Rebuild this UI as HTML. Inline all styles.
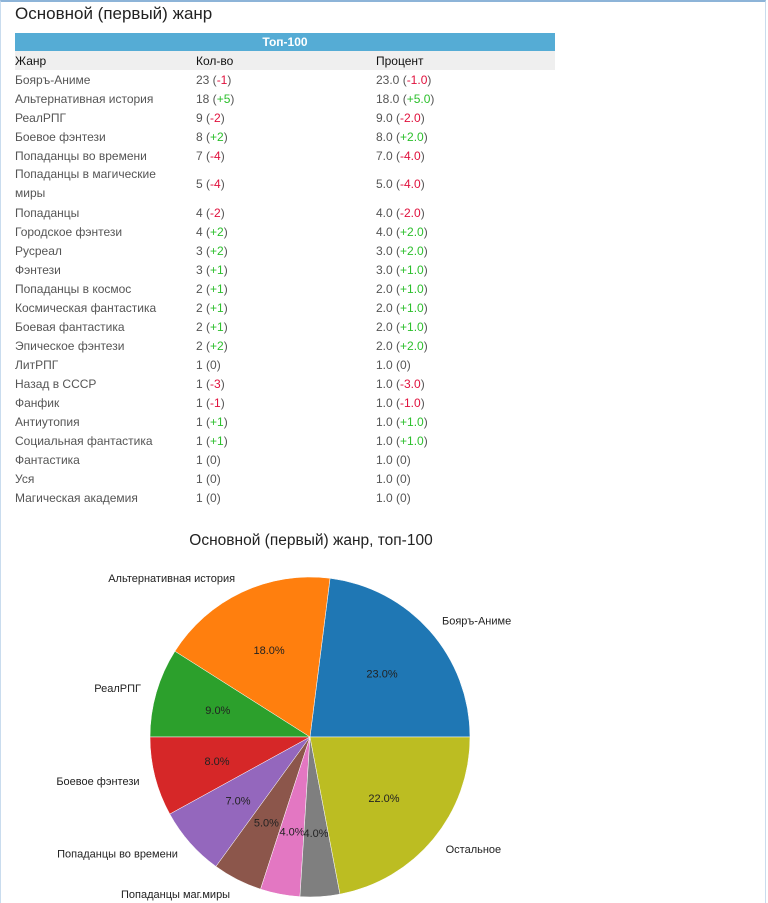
<!DOCTYPE html>
<html><head><meta charset="utf-8"><style>
body{margin:0;width:768px;height:903px;overflow:hidden;background:#fff;font-family:"Liberation Sans","DejaVu Sans",sans-serif;position:relative}
.frame{position:absolute;left:0;top:0;width:766px;height:903px;border-top:2px solid #8db4d8;border-left:1px solid #c9dcee;border-right:1px solid #c9dcee;box-sizing:border-box}
h1{position:absolute;left:15px;top:4px;margin:0;font-weight:normal;font-size:17px;color:#222}
table{position:absolute;left:15px;top:33px;width:540px;border-collapse:collapse;font-size:12px;color:#555}
td{padding:0 0 0 0;height:19px;vertical-align:middle}
.top td{background:#55acd5;color:#fff;font-weight:bold;text-align:center;height:18px;font-size:12px}
.hd td{background:#efefef;color:#111;height:19px}
.r{color:#e0103c}.g{color:#2cbf2c}.z{color:#555}
td.c1{width:181px}td.c2{width:180px}
</style></head><body>
<div class="frame"></div>
<h1>Основной (первый) жанр</h1>
<table>
<tr class="top"><td colspan="3">Топ-100</td></tr>
<tr class="hd"><td class="c1">Жанр</td><td class="c2">Кол-во</td><td>Процент</td></tr>
<tbody id="tb"></tbody>
</table>
<svg id="pie" width="768" height="903" style="position:absolute;left:0;top:0"></svg>
<script>
const genres=["Бояръ-Аниме","Альтернативная история","РеалРПГ","Боевое фэнтези","Попаданцы во времени","Попаданцы в магические миры","Попаданцы","Городское фэнтези","Русреал","Фэнтези","Попаданцы в космос","Космическая фантастика","Боевая фантастика","Эпическое фэнтези","ЛитРПГ","Назад в СССР","Фанфик","Антиутопия","Социальная фантастика","Фантастика","Уся","Магическая академия"];
const counts=[23,18,9,8,7,5,4,4,3,3,2,2,2,2,1,1,1,1,1,1,1,1];
const deltas=[-1,5,-2,2,-4,-4,-2,2,2,1,1,1,1,2,0,-3,-1,1,1,0,0,0];
const tb=document.getElementById('tb');
function dspan(d,dec){const s=document.createElement('span');const v=(dec&&d!==0)?Math.abs(d).toFixed(1):Math.abs(d);s.className=d>0?'g':(d<0?'r':'z');s.textContent=(d>0?'+':(d<0?'-':''))+v;return s;}
genres.forEach((g,i)=>{
 const tr=document.createElement('tr');
 
 
 const t1=document.createElement('td');t1.className='c1';
 if(g.length>24){t1.innerHTML='Попаданцы в магические<br>миры';t1.style.height='38px';t1.style.lineHeight='19px';}else t1.textContent=g;
 const t2=document.createElement('td');t2.append(counts[i]+' (',dspan(deltas[i],false),')');
 const t3=document.createElement('td');t3.append(counts[i].toFixed(1)+' (',dspan(deltas[i],true),')');
 tr.append(t1,t2,t3);tb.appendChild(tr);
});
// pie
const pieLabels=["Бояръ-Аниме","Альтернативная история","РеалРПГ","Боевое фэнтези","Попаданцы во времени","Попаданцы маг.миры","Попаданцы","Городское фэнтези","Остальное"];
const pieValues=[23,18,9,8,7,5,4,4,22];
const pieColors=["#1f77b4","#ff7f0e","#2ca02c","#d62728","#9467bd","#8c564b","#e377c2","#7f7f7f","#bcbd22"];
const svg=document.getElementById('pie');const NS='http://www.w3.org/2000/svg';
const cx=310,cy=737,R=160;
function mk(t,a){const e=document.createElementNS(NS,t);for(const k in a)e.setAttribute(k,a[k]);svg.appendChild(e);return e;}
const title=mk('text',{x:311,y:545,'text-anchor':'middle','font-size':'15.5',fill:'#222'});


title.textContent='Основной (первый) жанр, топ-100';
const total=pieValues.reduce((a,b)=>a+b,0);let ang=0;
pieValues.forEach((v,i)=>{
 const a0=ang,a1=ang+v/total*2*Math.PI;ang=a1;
 const x0=cx+R*Math.cos(a0),y0=cy-R*Math.sin(a0),x1=cx+R*Math.cos(a1),y1=cy-R*Math.sin(a1);
 const p=mk('path',{d:`M${cx},${cy}L${x0},${y0}A${R},${R} 0 ${a1-a0>Math.PI?1:0} 0 ${x1},${y1}Z`,fill:pieColors[i],stroke:'#fff','stroke-width':'0.5'});
 
 
 const m=(a0+a1)/2,c=Math.cos(m),s=Math.sin(m);
 const pt=mk('text',{x:cx+0.6*R*c,y:cy-0.6*R*s+4,'text-anchor':'middle','font-size':'11',fill:'#222'});
 
 
 pt.textContent=(v/total*100).toFixed(1)+'%';
 const lt=mk('text',{x:cx+1.1*R*c,y:cy-1.1*R*s+4,'text-anchor':c>=0?'start':'end','font-size':'11',fill:'#222'});
 
 
 lt.textContent=pieLabels[i];
});
</script>
</body></html>
